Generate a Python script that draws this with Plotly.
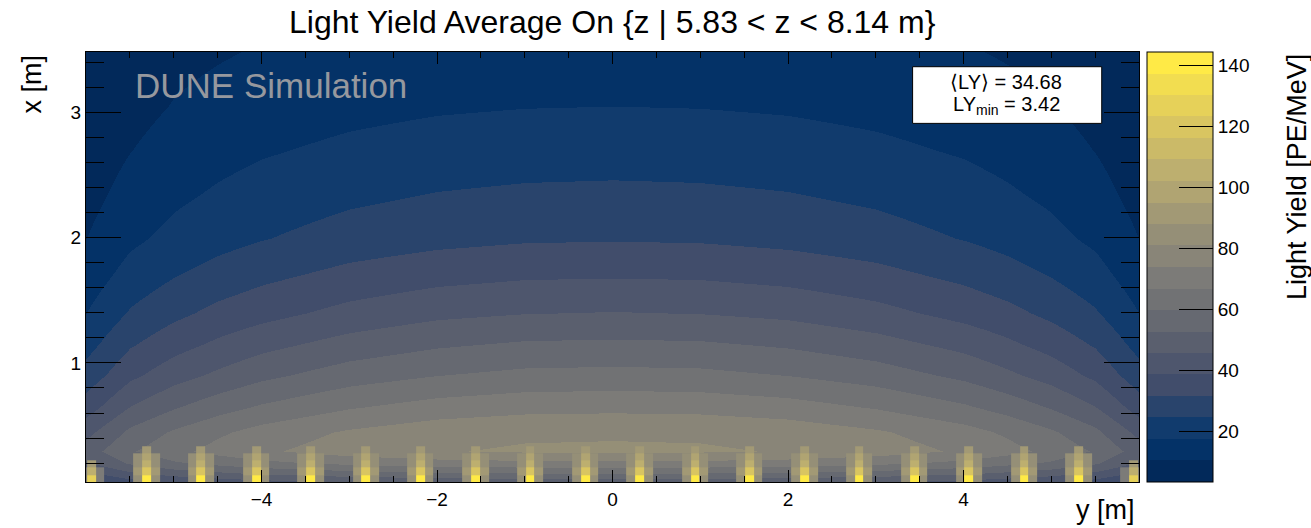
import plotly.graph_objects as go

# ---- Light-yield map, z-averaged (5.83 < z < 8.14 m) ----
# Horizontal coordinate y [m] of the sampled columns
y_grid = [-6.0, -5.5, -5.0, -4.5, -4.0, -3.0, -2.0, -1.0, 0.0, 1.0, 2.0, 3.0, 4.0, 4.5, 5.0, 5.5, 6.0]
# Vertical coordinate x [m] of the sampled rows (bottom -> top)
x_grid = [0.05, 0.12, 0.2, 0.3, 0.45, 0.65, 0.9, 1.15, 1.4, 1.7, 2.0, 2.35, 2.7, 3.05, 3.48]
# Light yield [PE/MeV] between photon detectors
ly_grid = [
    [29.5, 35.5, 38.9, 41.3, 43.0, 45.6, 47.0, 47.8, 48, 47.8, 47.0, 45.6, 43.0, 41.3, 38.9, 35.5, 29.5],
    [37.0, 44.4, 48.8, 51.5, 53.9, 57.0, 58.7, 59.8, 60, 59.8, 58.7, 57.0, 53.9, 51.5, 48.8, 44.4, 37.0],
    [44.6, 53.6, 58.7, 61.9, 64.8, 68.4, 70.6, 71.7, 72, 71.7, 70.6, 68.4, 64.8, 61.9, 58.7, 53.6, 44.6],
    [49.2, 59.0, 64.8, 69.3, 72.7, 77.5, 80.4, 81.8, 82, 81.8, 80.4, 77.5, 72.7, 69.3, 64.8, 59.0, 49.2],
    [43.5, 54.4, 60.8, 65.6, 69.6, 74.8, 78.2, 79.7, 80, 79.7, 78.2, 74.8, 69.6, 65.6, 60.8, 54.4, 43.5],
    [35.3, 45.9, 52.1, 56.9, 60.8, 66.2, 69.8, 71.6, 72, 71.6, 69.8, 66.2, 60.8, 56.9, 52.1, 45.9, 35.3],
    [27.3, 37.0, 42.8, 47.1, 51.0, 56.3, 59.6, 61.6, 62, 61.6, 59.6, 56.3, 51.0, 47.1, 42.8, 37.0, 27.3],
    [22.0, 30.8, 36.0, 40.0, 43.5, 48.4, 51.7, 53.6, 54, 53.6, 51.7, 48.4, 43.5, 40.0, 36.0, 30.8, 22.0],
    [17.5, 25.3, 29.9, 33.6, 36.3, 40.9, 44.0, 45.5, 46, 45.5, 44.0, 40.9, 36.3, 33.6, 29.9, 25.3, 17.5],
    [13.5, 20.2, 24.2, 27.3, 29.9, 33.7, 36.3, 37.7, 38, 37.7, 36.3, 33.7, 29.9, 27.3, 24.2, 20.2, 13.5],
    [10.4, 16.0, 19.5, 22.1, 24.2, 27.5, 29.5, 30.7, 31, 30.7, 29.5, 27.5, 24.2, 22.1, 19.5, 16.0, 10.4],
    [8.1, 13.0, 16.1, 18.4, 20.3, 23.0, 24.8, 25.7, 26, 25.7, 24.8, 23.0, 20.3, 18.4, 16.1, 13.0, 8.1],
    [6.2, 10.3, 13.3, 15.2, 16.8, 19.0, 20.5, 21.3, 21.5, 21.3, 20.5, 19.0, 16.8, 15.2, 13.3, 10.3, 6.2],
    [4.7, 8.2, 10.8, 12.4, 13.7, 15.5, 16.7, 17.3, 17.5, 17.3, 16.7, 15.5, 13.7, 12.4, 10.8, 8.2, 4.7],
    [3.5, 6.4, 8.7, 9.9, 11.0, 12.4, 13.4, 13.9, 14, 13.9, 13.4, 12.4, 11.0, 9.9, 8.7, 6.4, 3.5],
]

# Photon detector positions along y [m] and light yield in the bin in front of each
spot_y = [-5.94, -5.31, -4.69, -4.06, -3.44, -2.81, -2.19, -1.56, -0.94, -0.31,
          0.31, 0.94, 1.56, 2.19, 2.81, 3.44, 4.06, 4.69, 5.31, 5.94]
spot_core_ly = [128, 138, 141, 140, 141, 139, 142, 140, 141, 142,
                142, 141, 140, 142, 139, 141, 140, 141, 138, 128]
# Glow above each detector: bin rows (x edges), centre-bin and side-bin values
glow_x_edges = [0.05, 0.107, 0.164, 0.221, 0.278, 0.335]
glow_center_ly = [118, 104, 95, 89]
glow_side_ly = [84, 88, 86, 84, None]
# Outermost detectors (next to the walls)
edge_glow_center_ly = [104, 90, None, None]
edge_glow_side_ly = [68, 68, None, None, None]
bin_w = 0.1

LY_MIN, LY_MAX = 3.42, 144.3
N_LEVELS = 20
LY_MEAN = 34.68

# ROOT kCividis palette stops
pal_stops = [0.0, 0.125, 0.25, 0.375, 0.5, 0.625, 0.75, 0.875, 1.0]
pal_r = [0, 5, 65, 97, 124, 156, 189, 224, 255]
pal_g = [32, 54, 77, 100, 123, 148, 175, 203, 234]
pal_b = [77, 110, 107, 111, 120, 119, 111, 94, 70]


def palette(f):
    for k in range(len(pal_stops) - 1):
        if f <= pal_stops[k + 1]:
            t = (f - pal_stops[k]) / (pal_stops[k + 1] - pal_stops[k])
            c = [a + t * (b - a) for a, b in ((pal_r[k], pal_r[k + 1]),
                                                (pal_g[k], pal_g[k + 1]),
                                                (pal_b[k], pal_b[k + 1]))]
            return "rgb(%d,%d,%d)" % tuple(round(v) for v in c)
    return "rgb(%d,%d,%d)" % (pal_r[-1], pal_g[-1], pal_b[-1])


# Stepped colour scale: one flat colour per contour level
colorscale = []
for i in range(N_LEVELS):
    col = palette(min(1.0, (i + 0.99) / N_LEVELS))
    colorscale.append([i / N_LEVELS, col])
    colorscale.append([(i + 1) / N_LEVELS, col])

# Detector glow bins: three bins per detector, empty bins in between
glow_edges = []
for s in spot_y:
    glow_edges += [s - 1.5 * bin_w, s - 0.5 * bin_w, s + 0.5 * bin_w, s + 1.5 * bin_w]
n_spots = len(spot_y)
glow_z = []
for r in range(len(glow_x_edges) - 1):
    row = []
    for k in range(n_spots):
        outer = k in (0, n_spots - 1)
        if r == 0:
            centre = spot_core_ly[k]
        else:
            centre = (edge_glow_center_ly if outer else glow_center_ly)[r - 1]
        side = (edge_glow_side_ly if outer else glow_side_ly)[r]
        row += [side, centre, side]
        if k < n_spots - 1:
            row.append(None)
    glow_z.append(row)

font = "Liberation Sans, Arial, Helvetica, sans-serif"

fig = go.Figure()
fig.add_trace(go.Heatmap(
    x=y_grid, y=x_grid, z=ly_grid, zsmooth="best",
    zmin=LY_MIN, zmax=LY_MAX, colorscale=colorscale, hoverinfo="skip",
    colorbar=dict(
        x=1.0076, xanchor="left", xpad=0, y=0.5, yanchor="middle", ypad=0,
        len=1, lenmode="fraction", thickness=66, thicknessmode="pixels",
        outlinewidth=1, outlinecolor="black",
        ticks="inside", ticklen=34, tickwidth=1, tickcolor="black",
        tickvals=[20, 40, 60, 80, 100, 120, 140],
        tickfont=dict(family=font, size=19, color="black"),
    ),
))
fig.add_trace(go.Heatmap(
    x=glow_edges, y=glow_x_edges, z=glow_z, zsmooth=False,
    zmin=LY_MIN, zmax=LY_MAX, colorscale=colorscale, showscale=False,
    hoverinfo="skip",
))

axis_common = dict(
    showline=True, linecolor="black", linewidth=1, mirror="allticks",
    ticks="inside", tickcolor="black", tickwidth=1,
    showgrid=False, zeroline=False,
    tickfont=dict(family=font, size=19, color="black"),
)
fig.update_xaxes(range=[-6.0, 6.0], tickvals=[-4, -2, 0, 2, 4], ticklen=12,
                 minor=dict(dtick=0.5, tick0=0, ticklen=6, ticks="inside",
                            tickcolor="black", showgrid=False),
                 **axis_common)
fig.update_yaxes(range=[0.05, 3.48], tickvals=[1, 2, 3], ticklen=35,
                 minor=dict(dtick=0.2, tick0=0, ticklen=18, ticks="inside",
                            tickcolor="black", showgrid=False),
                 **axis_common)

# Statistics box
fig.add_shape(type="rect", xref="paper", yref="paper",
              x0=0.785, x1=0.9646, y0=0.834, y1=0.9658,
              fillcolor="white", line=dict(color="black", width=1), layer="above")

annotations = [
    dict(text="Light Yield Average On {z | 5.83 < z < 8.14 m}", x=0.5, y=1.07,
         xanchor="center", yanchor="middle", font=dict(size=32)),
    dict(text="x [m]", x=-0.0513, y=1.0, xanchor="center", yanchor="top",
         textangle=-90, font=dict(size=27)),
    dict(text="y [m]", x=0.998, y=-0.065, xanchor="right", yanchor="middle",
         font=dict(size=27)),
    dict(text="Light Yield [PE/MeV]", x=1.150, y=1.0, xanchor="center", yanchor="top",
         textangle=-90, font=dict(size=27)),
    dict(text="DUNE Simulation", x=0.0446, y=0.921, xanchor="left", yanchor="middle",
         font=dict(size=35, color="rgb(150,152,158)")),
    dict(text="\u27e8LY\u27e9 = %.2f" % LY_MEAN, x=0.8737, y=0.931,
         xanchor="center", yanchor="middle", font=dict(size=20)),
    dict(text="LY<sub>min</sub> = %.2f" % LY_MIN, x=0.8737, y=0.876,
         xanchor="center", yanchor="middle", font=dict(size=20)),
]
for a in annotations:
    a.update(xref="paper", yref="paper", showarrow=False)
    a["font"].setdefault("color", "black")
    a["font"]["family"] = font

fig.update_layout(
    width=1311, height=528, autosize=False,
    margin=dict(l=86, r=172, t=52, b=46),
    paper_bgcolor="white", plot_bgcolor="white",
    font=dict(family=font, color="black"),
    annotations=annotations,
    showlegend=False,
)

fig.write_html("out.html")
